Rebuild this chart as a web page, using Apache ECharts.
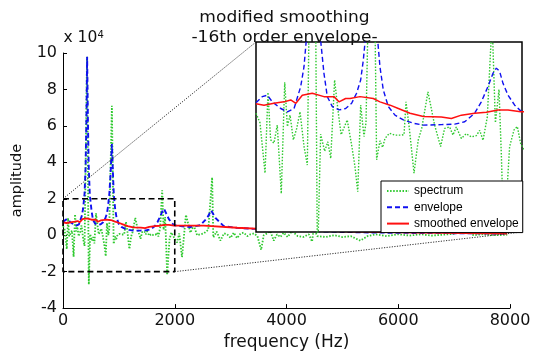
<!DOCTYPE html>
<html><head><meta charset="utf-8">
<script src="https://cdn.jsdelivr.net/npm/echarts@6/dist/echarts.min.js"></script>
<style>html,body{margin:0;padding:0;background:#fff}#c{width:539px;height:356px}</style>
</head><body><div id="c"></div>
<script>
// ---- data (amplitude in units of 10^4, frequency in Hz) ----
const specFreq = [
0,30,68,90,110,135,160,190,216,236,
256,281,306,331,361,386,430,462,486,516,
540,562,591,617,640,686,719,744,765,787,
812,827,875,907,932,952,970,1003,1045,1095,
1113,1128,1153,1188,1220,1246,1293,1343,1388,1418,
1456,1481,1506,1544,1581,1619,1657,1682,1707,1739,
1775,1800,1827,1845,1864,1907,1940,1965,1990,2043,
2080,2130,2200,2281,2340,2400,2460,2520,2600,2669,
2690,2750,2818,2880,2937,3000,3056,3116,3180,3235,
3300,3354,3420,3480,3546,3593,3650,3712,3771,3831,
3890,3950,4020,4100,4200,4300,4400,4458,4487,4550,
4700,4850,5000,5150,5322,5450,5600,5800,6000,6200,
6400,6600,6800,7000,7200,7350,7500,7700,7950];
const specAmp = [
0.5,0.3,-0.76,0.94,-0.06,-0.13,0.25,-1.19,1.15,0.22,
0.46,-0.06,0.18,0.53,-0.2,-0.59,9.8,-2.7,0.06,-0.3,
-0.1,-0.45,1.2,0.55,0.05,0.36,-0.17,-0.62,-1.15,0.67,
0.01,0.3,7.1,-0.48,-0.08,-0.22,-0.03,0.08,0.04,0.04,
0.05,0.74,0.18,-0.76,-0.06,0.18,0.95,0.25,-0.2,0.18,
0.21,0.04,0.21,-0.03,0.07,0.0,0.03,0.14,-0.07,0.42,
2.46,0.3,1.0,-0.4,-2.18,-0.2,0.15,0.22,-0.14,-0.4,
0.1,-1.2,1.12,0.14,0.54,0.0,0.05,0.1,0.3,3.17,
-0.12,0.2,-0.3,0.1,0.05,-0.15,0.14,-0.16,0.1,0.14,
-0.05,0.05,0.1,-0.05,-0.8,0.0,0.1,0.23,-0.3,0.05,
-0.1,0.14,-0.1,0.23,-0.05,-0.1,0.05,-0.35,0.4,-0.05,
-0.1,0.0,-0.1,-0.05,-0.3,-0.05,0.05,-0.05,0.05,-0.02,
0.05,-0.02,0.03,0.08,0.3,0.0,0.05,0.0,0.02];

const envFreq = [
0,10,47,85,123,186,236,286,336,361,
386,405,420,432,445,460,480,511,536,574,
624,674,719,756,787,807,830,850,875,895,
910,932,957,995,1045,1108,1183,1258,1393,1494,
1569,1644,1694,1744,1782,1807,1832,1857,1895,1945,
1990,2102,2281,2460,2580,2651,2728,2877,3116,3414,
3700,4000,4500,5000,5500,6000,6500,7000,7500,7950];
const envAmp = [
0.72,0.74,0.85,0.88,0.74,0.6,0.53,0.6,1.06,1.48,
2.3,3.8,6.5,9.8,6.5,3.8,2.2,1.34,0.85,0.64,
0.57,0.6,0.71,0.92,1.2,1.62,2.3,3.3,5.0,3.3,
2.2,1.48,0.99,0.64,0.46,0.36,0.29,0.25,0.26,0.27,
0.32,0.5,0.74,1.06,1.34,1.45,1.38,1.13,0.88,0.67,
0.55,0.5,0.45,0.55,0.95,1.36,0.95,0.5,0.4,0.35,
0.33,0.3,0.22,0.18,0.15,0.13,0.12,0.11,0.1,0.09];

const smoothFreq = [0,60,135,210,261,300,348,423,511,586,624,674,707,782,882,932,1008,1070,1158,1258,1393,1469,1544,1644,1732,1820,1895,1990,2519,3116,3712,4070,5173,6365,7950];
const smoothAmp = [0.7,0.67,0.71,0.74,0.78,0.71,0.88,0.92,0.85,0.85,0.74,0.81,0.81,0.85,0.81,0.74,0.67,0.6,0.5,0.43,0.42,0.39,0.46,0.5,0.52,0.57,0.57,0.53,0.53,0.41,0.32,0.28,0.2,0.14,0.09];

const seriesNames = ['spectrum', 'envelope', 'smoothed envelope'];
const xRange = [0, 8000], xStep = 2000;
const yRange = [-4, 10], yStep = 2;
const zoomX = [0, 2000];
const zoomY = [-2, 2];
const titleLines = ['modified smoothing', '-16th order envelope-'];

// ---- chart ----
function zip(f, a) { return f.map((v, i) => [v, a[i]]); }
const FONT = '"DejaVu Sans", sans-serif';
const chart = echarts.init(document.getElementById('c'), null, {renderer: 'canvas'});

const colors = ['#2fc92f', '#1010f0', '#ff1010'];
const dashes = [[1.5, 1.6], [5, 3], 'solid'];
const widths = [[1.8, 1.4], [1.9, 1.4], [1.8, 1.5]];
const datas = [zip(specFreq, specAmp), zip(envFreq, envAmp), zip(smoothFreq, smoothAmp)];

const series = [];
[0, 1].forEach(g => {
  seriesNames.forEach((n, i) => {
    series.push({
      type: 'line', name: n, data: datas[i],
      xAxisIndex: g, yAxisIndex: g,
      showSymbol: false, symbol: 'none', animation: false, silent: true,
      lineStyle: {color: colors[i], width: widths[i][g], type: dashes[i]},
      itemStyle: {color: colors[i]},
      z: g === 0 ? 2 : 12, clip: true
    });
  });
  if (g === 0) {
    series.push({
      type: 'line', name: 'zoomBox',
      data: [[zoomX[0], zoomY[1]], [zoomX[1], zoomY[1]], [zoomX[1], zoomY[0]], [zoomX[0], zoomY[0]], [zoomX[0], zoomY[1]]],
      xAxisIndex: 0, yAxisIndex: 0, showSymbol: false, symbol: 'none', animation: false, silent: true,
      lineStyle: {color: '#000', width: 1.6, type: [6, 3.5]}, z: 4
    });
  }
});

const axisCommon = {
  axisLine: {onZero: false, lineStyle: {color: '#000', width: 1}},
  axisTick: {inside: true, length: 4, lineStyle: {color: '#000'}},
  splitLine: {show: false}
};
const plain = v => String(v);

chart.setOption({
  animation: false,
  backgroundColor: '#fff',
  grid: [
    {left: 63, top: 53, width: 447, height: 263, containLabel: false},
    {left: 256, top: 42, width: 266, height: 190, show: true, backgroundColor: '#fff', borderColor: '#000', borderWidth: 1.5, z: 10}
  ],
  xAxis: [
    Object.assign({}, axisCommon, {
      type: 'value', gridIndex: 0, min: xRange[0], max: xRange[1], interval: xStep,
      axisLabel: {fontFamily: FONT, fontSize: 16, color: '#111', margin: 5, formatter: plain},
      name: 'frequency (Hz)', nameLocation: 'middle', nameGap: 23,
      nameTextStyle: {fontFamily: FONT, fontSize: 17, color: '#111'}
    }),
    {type: 'value', gridIndex: 1, min: zoomX[0], max: zoomX[1], show: false}
  ],
  yAxis: [
    Object.assign({}, axisCommon, {
      type: 'value', gridIndex: 0, min: yRange[0], max: yRange[1], interval: yStep,
      axisLabel: {fontFamily: FONT, fontSize: 16, color: '#111', margin: 6, formatter: plain},
      name: 'amplitude', nameLocation: 'middle', nameGap: 38, nameRotate: 90,
      nameTextStyle: {fontFamily: FONT, fontSize: 14.5, color: '#111'}
    }),
    {type: 'value', gridIndex: 1, min: zoomY[0], max: zoomY[1], show: false}
  ],
  legend: {
    data: seriesNames, orient: 'vertical', left: 381, top: 181,
    itemWidth: 22, itemHeight: 12, itemGap: 4.3,
    padding: [4, 4, 3, 5],
    itemStyle: {opacity: 0},
    backgroundColor: '#fff', borderColor: '#000', borderWidth: 1, borderRadius: 0,
    textStyle: {fontFamily: '"Liberation Sans", Arial, sans-serif', fontSize: 12, color: '#000', lineHeight: 12},
    selectedMode: false, z: 20
  },
  series: series
});

const p1 = chart.convertToPixel({gridIndex: 0}, [zoomX[0], zoomY[1]]);
const q1 = chart.convertToPixel({gridIndex: 1}, [zoomX[0], zoomY[1]]);
const p2 = chart.convertToPixel({gridIndex: 0}, [zoomX[1], zoomY[0]]);
const q2 = chart.convertToPixel({gridIndex: 1}, [zoomX[1], zoomY[0]]);
const connStyle = {stroke: '#333', lineWidth: 1, lineDash: [1.2, 1.4]};

chart.setOption({
  graphic: [
    {type: 'line', z: 5, silent: true, shape: {x1: p1[0], y1: p1[1], x2: q1[0], y2: q1[1]}, style: connStyle},
    {type: 'line', z: 5, silent: true, shape: {x1: p2[0], y1: p2[1], x2: q2[0], y2: q2[1]}, style: connStyle},
    {type: 'text', x: 284.5, y: 17.5, scaleX: 1.1, z: 30, silent: true,
     style: {text: titleLines[0], font: '15.5px ' + FONT, fill: '#111', textAlign: 'center', align: 'center', textVerticalAlign: 'middle', verticalAlign: 'middle'}},
    {type: 'text', x: 284.5, y: 37.5, scaleX: 1.1, z: 30, silent: true,
     style: {text: titleLines[1], font: '15.5px ' + FONT, fill: '#111', textAlign: 'center', align: 'center', textVerticalAlign: 'middle', verticalAlign: 'middle'}},
    {type: 'text', x: 63.5, y: 46, z: 30, silent: true,
     style: {text: 'x 10', font: '15.5px ' + FONT, fill: '#111', textAlign: 'left', align: 'left', textVerticalAlign: 'bottom', verticalAlign: 'bottom'}},
    {type: 'text', x: 97.5, y: 40, z: 30, silent: true,
     style: {text: '4', font: '10px ' + FONT, fill: '#111', textAlign: 'left', align: 'left', textVerticalAlign: 'bottom', verticalAlign: 'bottom'}}
  ]
});
</script></body></html>
